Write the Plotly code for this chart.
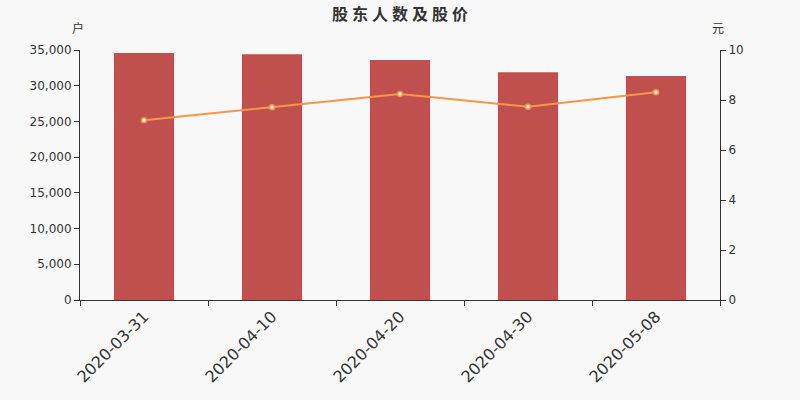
import plotly.graph_objects as go

dates = ["2020-03-31", "2020-04-10", "2020-04-20", "2020-04-30", "2020-05-08"]
holders = [34580, 34400, 33600, 31870, 31360]
price = [7.19, 7.71, 8.24, 7.73, 8.31]
title = "股东人数及股价"

font = "DejaVu Sans, Noto Sans CJK SC, sans-serif"
fig = go.Figure()
fig.add_trace(go.Bar(x=dates, y=holders, marker=dict(color="#c0504d", line_width=0),
                     yaxis="y", name="股东人数"))
fig.add_trace(go.Scatter(x=dates, y=price, yaxis="y2", mode="lines+markers",
                         line=dict(color="#f79646", width=2),
                         marker=dict(color="white", size=5, line=dict(color="#f79646", width=1.5)),
                         name="股价"))
fig.update_layout(
    width=800, height=400,
    margin=dict(l=80, r=80, t=50, b=100),
    paper_bgcolor="#f8f8f8", plot_bgcolor="#f8f8f8",
    showlegend=False, bargap=0.53,
    font=dict(family=font, color="#333333", size=12),
    title=dict(text="<b>" + "\u2005".join(title) + "</b>", x=0.5, xanchor="center",
               y=1 - 14 / 400, yanchor="middle",
               font=dict(size=16, color="#333333", family="Noto Sans CJK SC, sans-serif")),
    xaxis=dict(type="category", showline=True, linecolor="#333333", linewidth=1,
               ticks="outside", tickson="boundaries", ticklen=5, tickcolor="#333333",
               tickangle=-45, tickfont=dict(size=16), showgrid=False, automargin=False),
    yaxis=dict(range=[0, 35000], dtick=5000, tickformat=",d", showline=True,
               linecolor="#333333", ticks="outside", ticklen=5, tickcolor="#333333",
               showgrid=False, zeroline=False, tickfont=dict(size=12), automargin=False),
    yaxis2=dict(range=[0, 10], dtick=2, overlaying="y", side="right", showline=True,
                linecolor="#333333", ticks="outside", ticklen=5, tickcolor="#333333",
                showgrid=False, zeroline=False, tickfont=dict(size=12), automargin=False),
)
fig.add_annotation(text="户", xref="paper", yref="paper", x=(78 - 80) / 640, y=(300 - 28) / 250,
                   xanchor="center", yanchor="middle",
                   showarrow=False, font=dict(size=12, family="Noto Sans CJK SC"))
fig.add_annotation(text="元", xref="paper", yref="paper", x=(718 - 80) / 640, y=(300 - 28) / 250,
                   xanchor="center", yanchor="middle",
                   showarrow=False, font=dict(size=12, family="Noto Sans CJK SC"))
fig.write_html("out.html", config={"displayModeBar": False},
               post_script="document.body.style.margin='0';document.body.style.background='#f8f8f8';")
